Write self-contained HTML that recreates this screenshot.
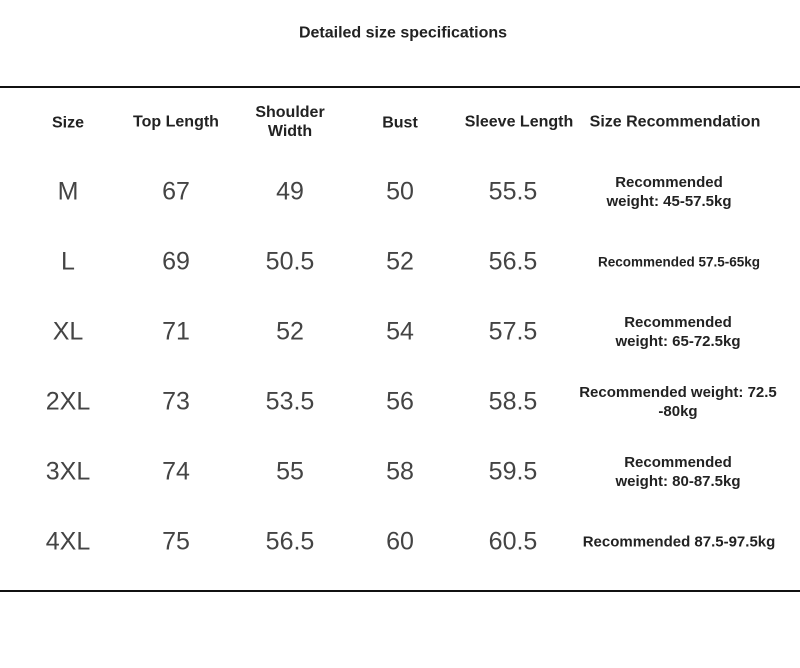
<!DOCTYPE html><html><head><style>
body{margin:0;width:800px;height:668px;background:#fff;font-family:"Liberation Sans",sans-serif;position:relative;overflow:hidden}
.t{position:absolute;transform:translate(-50%,-50%);text-align:center;white-space:nowrap;color:#333}
.h{font-weight:bold;font-size:16px;line-height:19px;color:#222}
.v{font-size:25px;color:#444}
.r{font-weight:bold;font-size:15px;line-height:19px;color:#222}
.line{position:absolute;left:0;width:800px;height:2px;background:#111}
</style></head><body>
<div class="t h" style="left:403px;top:33px;font-size:16px">Detailed size specifications</div>
<div class="line" style="top:86px"></div>
<div class="line" style="top:590px"></div>
<div class="t h" style="left:68px;top:123px">Size</div>
<div class="t h" style="left:176px;top:122px">Top Length</div>
<div class="t h" style="left:290px;top:122px">Shoulder<br>Width</div>
<div class="t h" style="left:400px;top:123px">Bust</div>
<div class="t h" style="left:519px;top:122px">Sleeve Length</div>
<div class="t h" style="left:675px;top:122px">Size Recommendation</div>

<div class="t v" style="left:68px;top:192px">M</div><div class="t v" style="left:176px;top:192px">67</div><div class="t v" style="left:290px;top:192px">49</div><div class="t v" style="left:400px;top:192px">50</div><div class="t v" style="left:513px;top:192px">55.5</div>
<div class="t r" style="left:669px;top:192px">Recommended<br>weight: 45-57.5kg</div>

<div class="t v" style="left:68px;top:262px">L</div><div class="t v" style="left:176px;top:262px">69</div><div class="t v" style="left:290px;top:262px">50.5</div><div class="t v" style="left:400px;top:262px">52</div><div class="t v" style="left:513px;top:262px">56.5</div>
<div class="t r" style="left:679px;top:262px;font-size:13.5px">Recommended 57.5-65kg</div>

<div class="t v" style="left:68px;top:332px">XL</div><div class="t v" style="left:176px;top:332px">71</div><div class="t v" style="left:290px;top:332px">52</div><div class="t v" style="left:400px;top:332px">54</div><div class="t v" style="left:513px;top:332px">57.5</div>
<div class="t r" style="left:678px;top:332px">Recommended<br>weight: 65-72.5kg</div>

<div class="t v" style="left:68px;top:402px">2XL</div><div class="t v" style="left:176px;top:402px">73</div><div class="t v" style="left:290px;top:402px">53.5</div><div class="t v" style="left:400px;top:402px">56</div><div class="t v" style="left:513px;top:402px">58.5</div>
<div class="t r" style="left:678px;top:402px">Recommended weight: 72.5<br>-80kg</div>

<div class="t v" style="left:68px;top:472px">3XL</div><div class="t v" style="left:176px;top:472px">74</div><div class="t v" style="left:290px;top:472px">55</div><div class="t v" style="left:400px;top:472px">58</div><div class="t v" style="left:513px;top:472px">59.5</div>
<div class="t r" style="left:678px;top:472px">Recommended<br>weight: 80-87.5kg</div>

<div class="t v" style="left:68px;top:542px">4XL</div><div class="t v" style="left:176px;top:542px">75</div><div class="t v" style="left:290px;top:542px">56.5</div><div class="t v" style="left:400px;top:542px">60</div><div class="t v" style="left:513px;top:542px">60.5</div>
<div class="t r" style="left:679px;top:542px">Recommended 87.5-97.5kg</div>
</body></html>
